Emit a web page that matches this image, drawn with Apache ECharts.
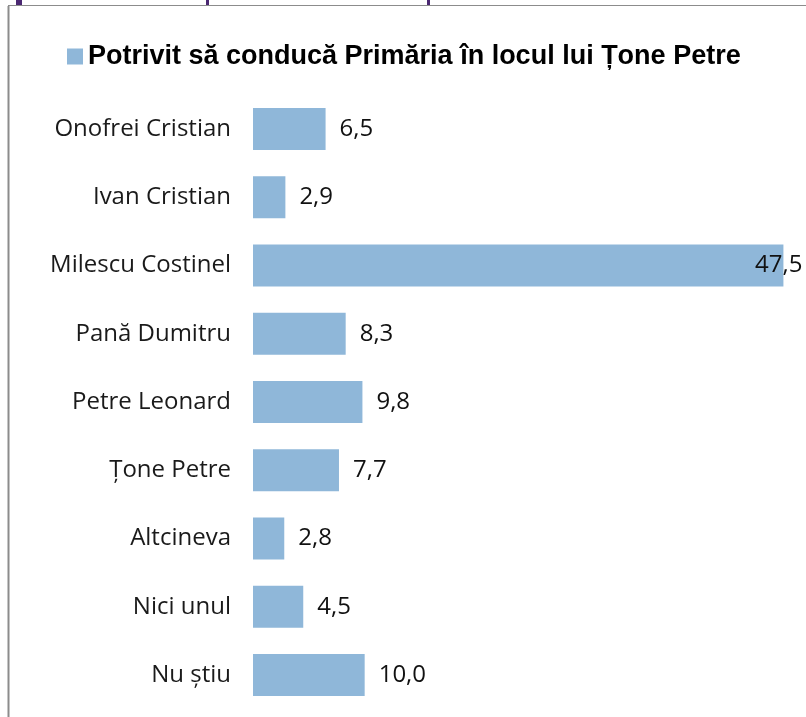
<!DOCTYPE html>
<html>
<head>
<meta charset="utf-8">
<script src="https://cdn.jsdelivr.net/npm/echarts@6/dist/echarts.min.js"></script>
<style>
  html, body { margin: 0; padding: 0; background: #fff; }
  #chart { width: 806px; height: 717px; }
</style>
</head>
<body>
<div id="chart"></div>
<script>
// categorii si valori (%)
var categories = ['Onofrei Cristian', 'Ivan Cristian', 'Milescu Costinel', 'Pană Dumitru',
                  'Petre Leonard', 'Țone Petre', 'Altcineva', 'Nici unul', 'Nu știu'];
var values = [6.5, 2.9, 47.5, 8.3, 9.8, 7.7, 2.8, 4.5, 10.0];
var seriesName = 'Potrivit să conducă Primăria în locul lui Țone Petre';

var fontFam = '"Open Sans", "DejaVu Sans", sans-serif';

// bara cea mai lunga are eticheta impinsa spre interior (ca in Excel)
var maxVal = Math.max.apply(null, values);
var barData = values.map(function (v) {
    if (v === maxVal) {
        return { value: v, label: { position: 'insideRight', distance: 0, offset: [19, 0] } };
    }
    return v;
});

var option = {
    backgroundColor: '#fff',
    animation: false,
    legend: {
        left: 62,
        top: 38,
        icon: 'rect',
        itemWidth: 16,
        itemHeight: 16,
        itemGap: 7,
        data: [seriesName],
        textStyle: { color: '#000', fontSize: 27, fontWeight: 'bold', fontFamily: '"Liberation Sans", Arial, sans-serif' }
    },
    grid: { left: 253, right: 17, top: 95, bottom: 8 },
    xAxis: {
        type: 'value',
        min: 0,
        max: 48,
        show: false
    },
    yAxis: {
        type: 'category',
        inverse: true,
        data: categories,
        axisLine: { show: false },
        axisTick: { show: false },
        axisLabel: { color: '#1a1a1a', fontSize: 24, margin: 22, fontFamily: fontFam }
    },
    series: [{
        name: seriesName,
        type: 'bar',
        barWidth: 42,
        itemStyle: { color: '#8fb7d9' },
        label: {
            show: true,
            position: 'right',
            distance: 14,
            color: '#111',
            fontSize: 24,
            fontFamily: fontFam,
            formatter: function (p) { return p.value.toFixed(1).replace('.', ','); }
        },
        data: barData
    }],
    graphic: [
        // chenarul diapozitivului
        { type: 'line', shape: { x1: 8.5, y1: 6, x2: 8.5, y2: 717 }, style: { stroke: '#8c8c8c', lineWidth: 2 } },
        { type: 'line', shape: { x1: 8, y1: 5.5, x2: 806, y2: 5.5 }, style: { stroke: '#8c8c8c', lineWidth: 1 } },
        // resturi din titlul taiat
        { type: 'rect', shape: { x: 16, y: 0, width: 6, height: 5 }, style: { fill: '#4b2872' } },
        { type: 'rect', shape: { x: 206, y: 0, width: 3, height: 5 }, style: { fill: '#4b2872' } },
        { type: 'rect', shape: { x: 427, y: 0, width: 3, height: 5 }, style: { fill: '#4b2872' } }
    ]
};

var chart = echarts.init(document.getElementById('chart'));
chart.setOption(option);
</script>
</body>
</html>
